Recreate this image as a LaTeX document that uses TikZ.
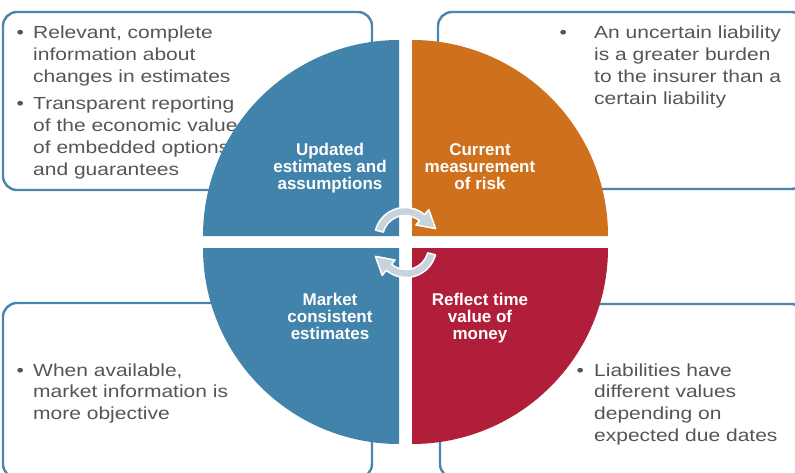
\documentclass[tikz,border=0pt]{standalone}
\usepackage{fontspec}
\setmainfont{Liberation Sans}
\newfontfamily\grayfont[FakeStretch=1.2]{Liberation Sans}
\definecolor{quadblue}{HTML}{4183AA}
\definecolor{quadorange}{HTML}{CF701D}
\definecolor{quadred}{HTML}{B01E3A}
\definecolor{boxblue}{HTML}{4A85B0}
\definecolor{txtgray}{HTML}{555555}
\definecolor{arrowfill}{HTML}{C7D4DE}
\newcommand\bitem[2]{\par\noindent\hangindent=#1\hangafter=1\makebox[#1][l]{\textbullet}#2}
\begin{document}
\begin{tikzpicture}[x=1pt,y=1pt,
  infobox/.style={draw=boxblue, line width=2.4pt, rounded corners=14pt},
  graytext/.style={inner sep=0pt, text=txtgray, font=\grayfont\fontsize{17.5}{21.9}\selectfont},
  quadtext/.style={inner sep=0pt, text=white, font=\bfseries\fontsize{17}{17}\selectfont},
  cyclearrow/.style={fill=arrowfill, draw=white, line width=1.5pt, line join=round},
  cyclearrowpic/.pic={
    \path[cyclearrow] (165:30.5pt) arc[start angle=165,end angle=50,radius=30.5pt]
      -- (50:37pt) -- (17:32pt) -- (50:17pt) -- (50:22.5pt)
      arc[start angle=50,end angle=165,radius=22.5pt] -- cycle;
  }]
\useasboundingbox (0,0) rectangle (795,472);

% outer boxes
\draw[infobox] (3,460) rectangle (372,282);
\draw[infobox] (438,460) rectangle (805,283);
\draw[infobox] (3,169) rectangle (372,-6);
\draw[infobox] (440,168) rectangle (805,-6);

% box texts
\node[graytext, anchor=base west] (tlnote) at (16.3,433) {\parbox[t]{400pt}{\raggedright\setlength\parskip{4.8pt}%
\bitem{16.7pt}{Relevant, complete\newline information about\newline changes in estimates}\par
\bitem{16.7pt}{Transparent reporting\newline of the economic value\newline of embedded options\newline and guarantees}}};
\node[graytext, anchor=base west] (trnote) at (559.3,433) {\parbox[t]{300pt}{\raggedright
\bitem{34.7pt}{An uncertain liability\newline is a greater burden\newline to the insurer than a\newline certain liability}}};
\node[graytext, anchor=base west] (blnote) at (16.3,96) {\parbox[t]{340pt}{\raggedright
\bitem{16.7pt}{When available,\newline market information is\newline more objective}}};
\node[graytext, anchor=base west] (brnote) at (576.3,96) {\parbox[t]{300pt}{\raggedright
\bitem{17.7pt}{Liabilities have\newline different values\newline depending on\newline expected due dates}}};

% quadrants
\fill[quadblue] (399,236) -- (203,236) arc[start angle=180,end angle=90,radius=196pt] -- cycle;
\fill[quadorange] (412,236) -- (412,432) arc[start angle=90,end angle=0,radius=196pt] -- cycle;
\fill[quadblue] (399,224) -- (203,224) arc[start angle=180,end angle=270,radius=196pt] -- cycle;
\fill[quadred] (412,224) -- (608,224) arc[start angle=0,end angle=-90,radius=196pt] -- cycle;

% cycle arrows
\pic (toparrow) at (405,234) {cyclearrowpic};
\pic[rotate=180] (botarrow) at (406,225) {cyclearrowpic};

% quadrant labels
\node[quadtext, anchor=base] (updated) at (330,316) {\parbox[t]{170pt}{\centering Updated\\estimates and\\assumptions}};
\node[quadtext, anchor=base] (current) at (480,316) {\parbox[t]{170pt}{\centering Current\\measurement\\of risk}};
\node[quadtext, anchor=base] (market) at (330,167) {\parbox[t]{170pt}{\centering Market\\consistent\\estimates}};
\node[quadtext, anchor=base] (reflect) at (480,167) {\parbox[t]{170pt}{\centering Reflect time\\value of\\money}};
\end{tikzpicture}
\end{document}
